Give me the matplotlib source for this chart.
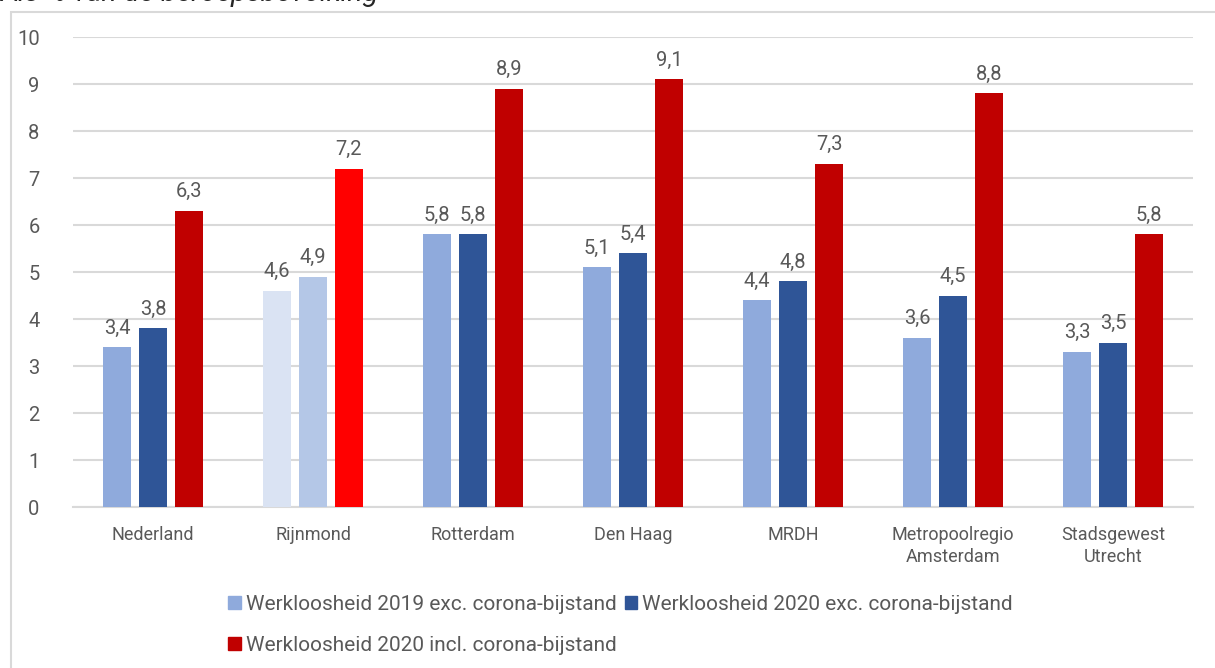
import numpy as np
import matplotlib.pyplot as plt
from matplotlib.patches import Rectangle, Patch

# data
regions = ['Nederland', 'Rijnmond', 'Rotterdam', 'Den Haag', 'MRDH',
           'Metropoolregio\nAmsterdam', 'Stadsgewest\nUtrecht']
wl_2019_exc = [3.4, 4.6, 5.8, 5.1, 4.4, 3.6, 3.3]
wl_2020_exc = [3.8, 4.9, 5.8, 5.4, 4.8, 4.5, 3.5]
wl_2020_inc = [6.3, 7.2, 8.9, 9.1, 7.3, 8.8, 5.8]
series_names = ['Werkloosheid 2019 exc. corona-bijstand',
                'Werkloosheid 2020 exc. corona-bijstand',
                'Werkloosheid 2020 incl. corona-bijstand']

colors = ['#8FAADC', '#2F5597', '#C00000']
# Rijnmond is highlighted with other colours
rijnmond_colors = ['#DAE3F3', '#B4C7E7', '#FF0000']

plt.rcParams['font.family'] = ['Roboto', 'DejaVu Sans']
txt_col = '#595959'

fig = plt.figure(figsize=(12.15, 6.68), dpi=100)
ax = fig.add_axes([0.060, 0.241, 0.922, 0.7036])

x = np.arange(len(regions))
width = 0.175
step = 0.225
series = [wl_2019_exc, wl_2020_exc, wl_2020_inc]
for k, vals in enumerate(series):
    cols = [colors[k]] * len(regions)
    cols[1] = rijnmond_colors[k]
    bars = ax.bar(x + (k - 1) * step, vals, width, color=cols, zorder=3)
    for b, v in zip(bars, vals):
        ax.annotate(f'{v:.1f}'.replace('.', ','),
                    (b.get_x() + b.get_width() / 2, v),
                    xytext=(0, 7), textcoords='offset points',
                    ha='center', va='bottom', fontsize=14.5, color=txt_col)

ax.set_xlim(-0.5, len(regions) - 0.5)
ax.set_ylim(0, 10)
ax.set_yticks(range(0, 11))
ax.set_xticks(x)
ax.set_xticklabels(regions, fontsize=13, color=txt_col, linespacing=1.25)
ax.tick_params(axis='y', labelsize=14.5, labelcolor=txt_col, length=0, pad=24)
ax.tick_params(axis='x', length=0, pad=14)
ax.grid(axis='y', color='#D9D9D9', linewidth=1.5, zorder=0)
for s in ['top', 'right', 'left']:
    ax.spines[s].set_visible(False)
ax.spines['bottom'].set_color('#D9D9D9')
ax.spines['bottom'].set_linewidth(1.5)

# legend, row-major order
handles = [Patch(color=c) for c in colors]
order = [0, 2, 1]
fig.legend([handles[i] for i in order], [series_names[i] for i in order],
           ncol=2, loc='upper left', bbox_to_anchor=(228 / 1215, 1 - 595 / 668),
           bbox_transform=fig.transFigure, frameon=False,
           fontsize=15, labelcolor=txt_col, handlelength=0.6, handleheight=0.6,
           handletextpad=0.25, columnspacing=0.4, labelspacing=1.05,
           borderaxespad=0, borderpad=0)

# chart border and cropped title
fig.patches.append(Rectangle((11 / 1215, -0.1), 1.2, 1.1 - 12 / 668,
                             transform=fig.transFigure, fill=False,
                             edgecolor='#D9D9D9', linewidth=1.5))
fig.text(0.0, 1 - 1 / 668, 'Als % van de beroepsbevolking', fontsize=20.5,
         style='italic', color='#262626', ha='left', va='baseline')

fig.savefig('out.png', dpi=100)
